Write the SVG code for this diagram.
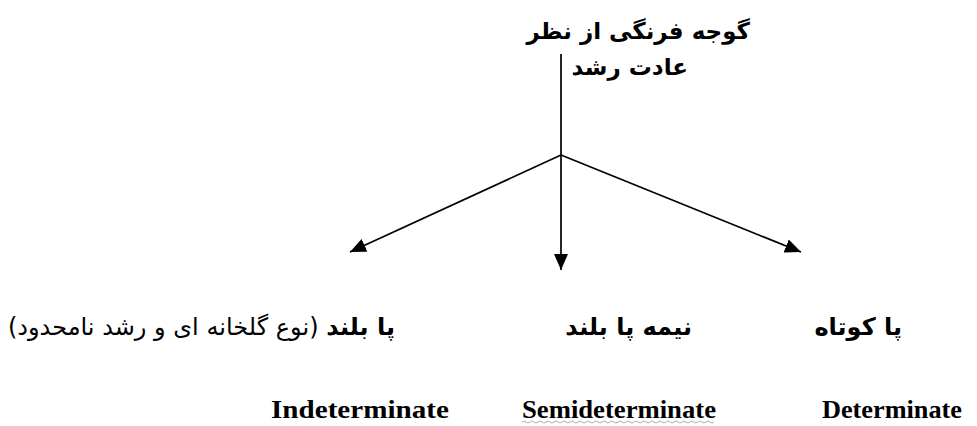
<svg xmlns="http://www.w3.org/2000/svg" width="977" height="426" viewBox="0 0 977 426">
<style>
.fa{font-family:"DejaVu Sans",sans-serif;fill:#000}
.b{font-weight:bold}
.en{font-family:"Liberation Serif",serif;font-weight:bold;font-size:25px;fill:#000}
.ln{stroke:#000;stroke-width:1.7;fill:none}
</style>
<defs>
<marker id="ah" viewBox="0 0 16 14" refX="16" refY="7" markerWidth="16" markerHeight="14" markerUnits="userSpaceOnUse" orient="auto">
<path d="M0,0 L16,7 L0,14 z" fill="#000"/>
</marker>
</defs>
<g id="root">
<text class="fa b" x="750" y="39" font-size="23" text-anchor="start" direction="rtl">گوجه فرنگی از نظر</text>
<text class="fa b" x="688" y="75" font-size="23" text-anchor="start" direction="rtl">عادت رشد</text>
</g>
<g id="connectors">
<path class="ln" d="M561,54 V155"/>
<path class="ln" d="M561,155 V270" marker-end="url(#ah)"/>
<path class="ln" d="M561,155 L350,252" marker-end="url(#ah)"/>
<path class="ln" d="M561,155 L801,252" marker-end="url(#ah)"/>
</g>
<g id="indeterminate">
<text class="fa" x="395" y="335" font-size="24" text-anchor="start" direction="rtl"><tspan class="b">پا بلند</tspan> (نوع گلخانه ای و رشد نامحدود)</text>
<text class="en" x="271" y="418" textLength="178" lengthAdjust="spacingAndGlyphs">Indeterminate</text>
</g>
<g id="semideterminate">
<text class="fa b" x="692" y="335" font-size="24" text-anchor="start" direction="rtl">نیمه پا بلند</text>
<text class="en" x="522" y="418" textLength="194" lengthAdjust="spacingAndGlyphs">Semideterminate</text>
<path d="M522,422 q2,-2 4,0 t4,0 t4,0 t4,0 t4,0 t4,0 t4,0 t4,0 t4,0 t4,0 t4,0 t4,0 t4,0 t4,0 t4,0 t4,0 t4,0 t4,0 t4,0 t4,0 t4,0 t4,0 t4,0 t4,0 t4,0 t4,0 t4,0 t4,0 t4,0 t4,0 t4,0 t4,0 t4,0 t4,0 t4,0 t4,0 t4,0 t4,0 t4,0 t4,0 t4,0 t4,0 t4,0 t4,0 t4,0 t4,0 t4,0 t4,0" stroke="#999" stroke-width="0.8" fill="none"/>
</g>
<g id="determinate">
<text class="fa b" x="902" y="335" font-size="24" text-anchor="start" direction="rtl">پا کوتاه</text>
<text class="en" x="822" y="418" textLength="140" lengthAdjust="spacingAndGlyphs">Determinate</text>
</g>
</svg>
